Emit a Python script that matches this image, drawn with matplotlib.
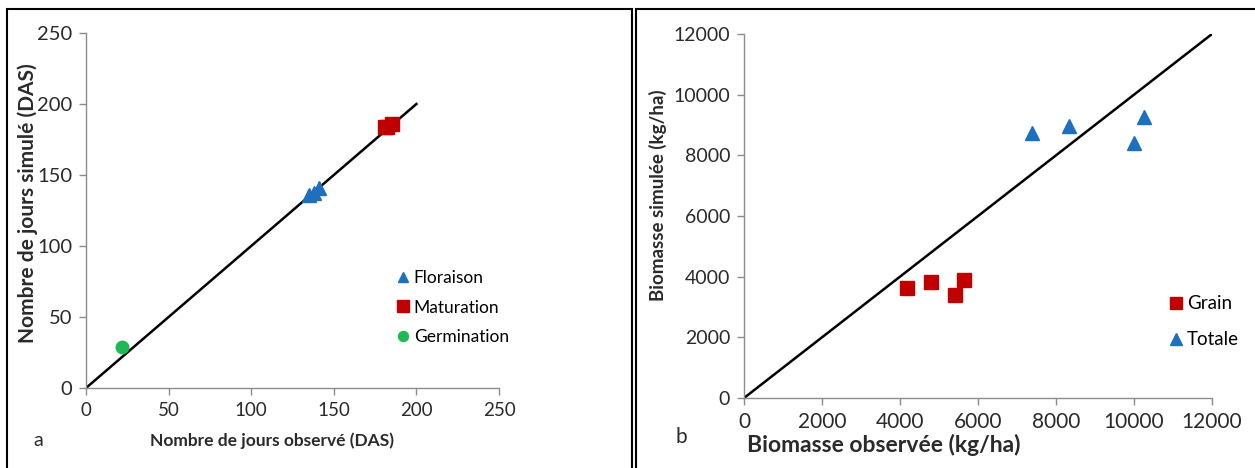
import matplotlib.pyplot as plt
from matplotlib.patches import Rectangle

plt.rcParams["font.family"] = ["Lato", "DejaVu Sans"]

# panel a: days after sowing (observed, simulated)
flo_obs = [135, 138, 141]
flo_sim = [136, 137, 141]
mat_obs = [181, 182, 185]
mat_sim = [184, 184, 186]
ger_obs = [22]
ger_sim = [29]
days_ticks = [0, 50, 100, 150, 200, 250]

# panel b: biomass kg/ha (observed, simulated)
grain_obs = [4180, 4790, 5410, 5640]
grain_sim = [3630, 3840, 3410, 3880]
tot_obs = [7380, 8330, 10010, 10260]
tot_sim = [8730, 8980, 8400, 9280]
bio_ticks = [0, 2000, 4000, 6000, 8000, 10000, 12000]

BLUE = "#1F6FBF"
RED = "#C00000"
GREEN = "#1DB954"
GREY = "#8C8C8C"
TXT = "#2A2A2A"

W, H = 1255, 468
fig = plt.figure(figsize=(W / 100, H / 100), dpi=100)


def px_axes(x0, y0, x1, y1):
    return fig.add_axes([x0 / W, 1 - y1 / H, (x1 - x0) / W, (y1 - y0) / H])


def style(ax, xsize, ysize):
    for s in ("top", "right"):
        ax.spines[s].set_visible(False)
    for s in ("left", "bottom"):
        ax.spines[s].set_color(GREY)
        ax.spines[s].set_linewidth(1.0)
    ax.tick_params(colors=GREY, labelcolor=TXT, length=5, width=1)
    ax.tick_params(axis="x", labelsize=xsize, pad=5)
    ax.tick_params(axis="y", labelsize=ysize, pad=5)


# frames around the two panels
fig.patches.append(Rectangle((7 / W, -0.1), 625 / W, 1.1 - 9 / H, transform=fig.transFigure,
                             fill=False, ec="black", lw=1.5))
fig.patches.append(Rectangle((636 / W, -0.1), 0.6, 1.1 - 9 / H, transform=fig.transFigure,
                             fill=False, ec="black", lw=1.5))

# ---- panel a
ax1 = px_axes(86, 33, 499, 388)
style(ax1, 13.5, 14.5)
ax1.plot([0, 200], [0, 200], color="black", lw=1.8, zorder=2)
ax1.plot(flo_obs, flo_sim, "^", color=BLUE, ms=9.5, ls="none", label="Floraison", zorder=3)
ax1.plot(mat_obs, mat_sim, "s", color=RED, ms=10, ls="none", label="Maturation", zorder=3)
ax1.plot(ger_obs, ger_sim, "o", color=GREEN, ms=9, ls="none", label="Germination", zorder=3)
ax1.set_xlim(0, 250)
ax1.set_ylim(0, 250)
ax1.set_xticks(days_ticks)
ax1.set_yticks(days_ticks)
ax1.legend(loc="upper left", bbox_to_anchor=(386 / W, 1 - 261 / H), bbox_transform=fig.transFigure,
           frameon=False, fontsize=12.5, handletextpad=0.1, handlelength=1.0, labelspacing=0.8,
           markerscale=0.8, borderpad=0)
fig.text(272 / W, 1 - 441 / H, "Nombre de jours observé (DAS)", ha="center", va="center",
         fontsize=12.5, fontweight="bold", color=TXT)
fig.text(28 / W, 1 - 203 / H, "Nombre de jours simulé (DAS)", ha="center", va="center",
         rotation=90, fontsize=15, fontweight="bold", color=TXT)
fig.text(38 / W, 1 - 440 / H, "a", ha="center", va="center", fontsize=14, color=TXT)

# ---- panel b
ax2 = px_axes(744, 34, 1212, 398)
style(ax2, 15, 14)
ax2.plot([0, 12000], [0, 12000], color="black", lw=1.8, zorder=2)
ax2.plot(grain_obs, grain_sim, "s", color=RED, ms=10, ls="none", label="Grain", zorder=3)
ax2.plot(tot_obs, tot_sim, "^", color=BLUE, ms=10, ls="none", label="Totale", zorder=3)
ax2.set_xlim(0, 12000)
ax2.set_ylim(0, 12000)
ax2.set_xticks(bio_ticks)
ax2.set_yticks(bio_ticks)
ax2.legend(loc="upper left", bbox_to_anchor=(1157 / W, 1 - 286 / H), bbox_transform=fig.transFigure,
           frameon=False, fontsize=13.5, handletextpad=0.1, handlelength=1.0, labelspacing=1.0,
           markerscale=0.8, borderpad=0)
fig.text(884 / W, 1 - 445 / H, "Biomasse observée (kg/ha)", ha="center", va="center",
         fontsize=16.5, fontweight="bold", color=TXT)
fig.text(658 / W, 1 - 195 / H, "Biomasse simulée (kg/ha)", ha="center", va="center",
         rotation=90, fontsize=13.5, fontweight="bold", color=TXT)
fig.text(681 / W, 1 - 437 / H, "b", ha="center", va="center", fontsize=15, color=TXT)

fig.savefig("out.png", dpi=100, facecolor="white")
